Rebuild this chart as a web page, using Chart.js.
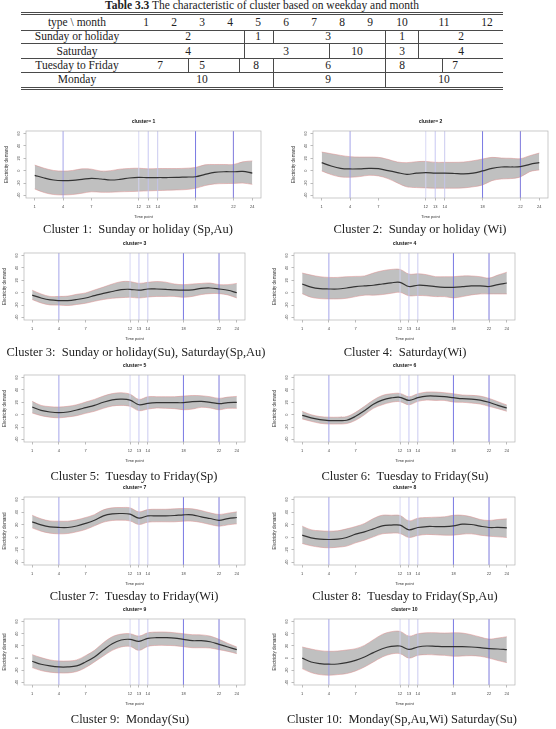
<!DOCTYPE html>
<html>
<head>
<meta charset="utf-8">
<script src="https://cdn.jsdelivr.net/npm/chart.js@4.4.1/dist/chart.umd.min.js"></script>
<style>
  body { margin: 0; width: 556px; height: 729px; background: #fff; position: relative; overflow: hidden;
         font-family: "Liberation Serif", serif; color: #222; }
  .t { position: absolute; white-space: pre; transform: translate(-50%, -50%); line-height: 1; }
  .rule { position: absolute; background: #4a4a4a; }
  canvas { position: absolute; }
</style>
</head>
<body>
<script>
// ---------------- data ----------------
const hours = [1, 2, 3, 4, 5, 6, 7, 8, 9, 10, 11, 12, 13, 14, 15, 16, 17, 18, 19, 20, 21, 22, 23, 24];
const xTicks = [1, 4, 7, 12, 13, 14, 18, 22, 24];
const yTicks = [-40, -20, 0, 20, 40, 60];
const vlineHours = [4, 12, 13, 14, 18, 22];

const clusterTitles = ['cluster= 1', 'cluster= 2', 'cluster= 3', 'cluster= 4', 'cluster= 5',
  'cluster= 6', 'cluster= 7', 'cluster= 8', 'cluster= 9', 'cluster= 10'];
const captions = [
  'Cluster 1:  Sunday or holiday (Sp,Au)', 'Cluster 2:  Sunday or holiday (Wi)',
  'Cluster 3:  Sunday or holiday(Su), Saturday(Sp,Au)', 'Cluster 4:  Saturday(Wi)',
  'Cluster 5:  Tuesday to Friday(Sp)', 'Cluster 6:  Tuesday to Friday(Su)',
  'Cluster 7:  Tuesday to Friday(Wi)', 'Cluster 8:  Tuesday to Friday(Sp,Au)',
  'Cluster 9:  Monday(Su)', 'Cluster 10:  Monday(Sp,Au,Wi) Saturday(Su)'
];

const meanC1 = [-7.5, -11.8, -15, -16, -15.5, -14, -12.3, -13.4, -15, -14, -11.8, -10.7, -11.3, -11, -11, -10.8, -10.2, -9.7, -6, -2.8, -1.7, -1.7, -1.2, -3.8];
const upperC1 = [9, 4, 0.4, -0.6, 0.4, 3, 2.5, -0.6, 0, 2.5, 3.6, 4, 3, 3.5, 3.5, 3.5, 4, 5.2, 9.5, 10, 10, 10, 14.3, 15.8];
const lowerC1 = [-29.4, -35.2, -38.4, -39, -38.4, -36.3, -34, -34.7, -34.7, -34, -33.6, -33, -32.5, -32, -31.5, -31, -30.4, -28.3, -24, -21.4, -20.8, -20.5, -20, -22];

const meanC2 = [13, 7.6, 3.8, 2.8, 3, 3.8, 3.3, 0, -3, -5.8, -4, -3, -4, -4, -4.5, -5.2, -4, -0.4, 3.8, 6, 6, 6.5, 10.3, 13];
const upperC2 = [30, 27.4, 24.7, 22.6, 22, 22, 21.5, 18.3, 14, 13, 14.5, 15, 13.5, 13.5, 13.5, 14, 16, 18.8, 21.5, 20.4, 20, 19.4, 24.2, 28.4];
const lowerC2 = [-0.4, -6.3, -10, -10.6, -9.5, -7.4, -8.4, -12.7, -19.7, -26, -27.2, -27.7, -28.2, -28.2, -28.2, -27.7, -26, -23, -16, -13.3, -12.7, -10, -1.5, 1.2];

const meanC3 = [-4, -8.5, -11.7, -12.7, -12.7, -11, -8.5, -4.7, -1, 2, 5, 5.5, 4, 6, 6, 5.5, 4.4, 4, 4.5, 7, 7.6, 6, 4, 0];
const upperC3 = [4, -2, -6, -6, -5.5, -2.6, -0.4, 4.4, 9, 14, 17.8, 18, 15, 16.7, 18, 17, 14, 13, 14, 15, 15.6, 13, 13, 15];
const lowerC3 = [-11, -16.5, -19.7, -20, -20.7, -19, -17, -13.8, -11, -9, -8, -7.4, -8.5, -7, -6, -6, -6, -7.4, -6, -3, -1.5, -1.5, -3.6, -8.5];

const meanC4 = [14, 9, 6.5, 6, 6, 7.6, 9.7, 11, 12, 14, 16, 16.7, 10, 12, 11.5, 9.7, 8.7, 8.7, 9.7, 11, 11, 10, 13, 15.6];
const upperC4 = [31.7, 28.4, 25.8, 24.7, 24.7, 25.8, 26.3, 27, 31.7, 35.4, 37.5, 37.5, 30, 30.6, 29, 25.8, 25.8, 25.8, 27, 27, 25.8, 23.6, 28.4, 33];
const lowerC4 = [-1.5, -7.4, -9.5, -10, -10, -9, -6.3, -4, -4, -3, -1, 0.6, -5, -4.5, -5, -6.3, -6.3, -8.4, -6.3, -3.6, -2, -2, -2, -2];

const meanC5 = [12.4, 7, 4.4, 3.3, 4.4, 7.6, 11.3, 15, 20, 24, 25, 23.6, 16, 18.3, 19.4, 19.4, 19.4, 19.4, 21, 21.5, 20, 17.8, 19.4, 20];
const upperC5 = [21.5, 15, 13, 12.4, 13.5, 16, 20.4, 24.7, 30, 34, 35.4, 33, 24.7, 29, 29, 29, 29, 30, 31, 30.5, 29, 26.3, 28.4, 29.5];
const lowerC5 = [2.8, -1.5, -4, -5, -3.6, -1.5, 2.2, 5.5, 10.3, 14, 15, 13.5, 6.5, 9, 10.8, 10.3, 9.7, 8, 9, 12, 10.8, 8, 10.3, 10.3];

const meanC6 = [-1, -5, -8, -9.5, -9.5, -9, -2.6, 6.5, 16.7, 23.6, 27, 28, 23, 27.4, 30, 30, 29, 27.4, 25.8, 25.2, 23.6, 20, 15, 10.8];
const upperC6 = [5.5, 0, -3, -4, -4, -3, 3.8, 13.5, 23.6, 31, 33.8, 34.3, 29, 33.8, 36.5, 36.5, 35.4, 33.8, 31.7, 31.2, 30, 26.3, 21, 15.6];
const lowerC6 = [-6.8, -10.6, -13.8, -15, -15, -14.3, -9, 0, 10.3, 16, 20, 21, 16, 21.5, 23.6, 23, 23, 20.4, 20, 18.8, 17.2, 13.5, 9.7, 5.5];

const meanC7 = [24.6, 19.8, 16.6, 15.6, 15.6, 18, 22, 27, 34, 37.2, 37.8, 36.7, 30.4, 34, 34, 34, 34.6, 35.7, 35.7, 32.5, 29.8, 27, 29.8, 31.4];
const upperC7 = [35, 29.3, 26, 25.6, 25.6, 27.7, 31.4, 36, 43.6, 46.8, 47.3, 46.8, 40.4, 44, 44.5, 44.5, 45.2, 45.7, 45.2, 42.5, 38.8, 36.2, 38.3, 40.4];
const lowerC7 = [15, 9.7, 6.6, 5.5, 6, 8.7, 12.4, 18.2, 24, 26.7, 27.2, 26, 20.3, 24, 24.6, 24.6, 24.6, 25.6, 25.6, 23.5, 20.3, 17.7, 19.8, 21.4];

const meanC8 = [3.4, -0.8, -3, -3.5, -3, -0.3, 5, 8.7, 13.4, 18.2, 19.3, 19.3, 11.9, 15.6, 17.1, 17.1, 17.1, 18.2, 20.8, 20.3, 17.7, 15.6, 15.6, 15];
const upperC8 = [17.7, 11.9, 10.3, 9.7, 10.3, 13.4, 17.1, 21.9, 29.8, 35, 35, 34.6, 26.1, 30.4, 31.4, 32, 32.5, 35, 35, 32.5, 28.3, 26.7, 28.3, 29.3];
const lowerC8 = [-9.8, -13.5, -15.7, -16.7, -15.7, -14, -8.8, -4.6, 0.7, 5.5, 6.6, 6, -0.3, 2.9, 4.5, 4, 3.4, 3.4, 5, 5.5, 3.4, 1.8, 0.7, -0.3];

const meanC9 = [-5.2, -10, -12.8, -14.5, -14.5, -12.8, -6.3, 1.8, 13.3, 23.6, 29.6, 30.7, 27.4, 32.3, 33.4, 33.4, 32.8, 30.7, 28.5, 28.5, 26.8, 22.5, 18.2, 13.8];
const upperC9 = [5.7, 0.8, -3, -4.7, -4.7, -3, 4, 12.7, 25.2, 35, 39.3, 39.9, 36, 41.5, 42.6, 42.6, 41.5, 39.9, 38.3, 38, 36, 30.7, 24.1, 18.2];
const lowerC9 = [-15.5, -20.4, -23, -24.2, -24.2, -22, -15.5, -6.3, 3.5, 12.7, 18.2, 19.2, 12.7, 19.2, 20.8, 20.8, 20.3, 18.7, 17, 17, 16.5, 13.8, 11, 7.3];

const meanC10 = [0, -6.3, -9, -10, -9.6, -7.4, -3.6, 1.8, 9, 15.4, 19.2, 19.8, 14.3, 18.2, 19.8, 19.2, 18.7, 18.7, 18.7, 18.2, 17, 15.4, 14.9, 13.8];
const upperC10 = [18.2, 14.9, 12.2, 11.1, 11.6, 13.3, 15.4, 20.8, 30, 38.8, 43.2, 43.7, 36, 39.9, 41.5, 41.5, 41, 41.5, 41, 38.3, 34.5, 31.2, 32.8, 35];
const lowerC10 = [-17.2, -23.7, -27, -28, -27, -25.3, -21, -14.5, -6.3, 1.8, 6.7, 7.3, 0, 4.6, 5.7, 5.2, 4.6, 3, 3.5, 4, 3, 0, -4, -7.4];

const means = [meanC1, meanC2, meanC3, meanC4, meanC5, meanC6, meanC7, meanC8, meanC9, meanC10];
const uppers = [upperC1, upperC2, upperC3, upperC4, upperC5, upperC6, upperC7, upperC8, upperC9, upperC10];
const lowers = [lowerC1, lowerC2, lowerC3, lowerC4, lowerC5, lowerC6, lowerC7, lowerC8, lowerC9, lowerC10];

// table contents
const tableMonths = ['1', '2', '3', '4', '5', '6', '7', '8', '9', '10', '11', '12'];
const tableTypes = ['Sunday or holiday', 'Saturday', 'Tuesday to Friday', 'Monday'];
const tableCells = [
  ['2', '1', '3', '1', '2'],
  ['4', '3', '10', '3', '4'],
  ['7', '5', '8', '6', '8', '7'],
  ['10', '9', '10']
];

// ---------------- layout ----------------
const SANS = '"Liberation Sans", Arial, sans-serif';
const monthX = [146, 174, 202, 230, 258, 286, 314, 342, 370, 402, 444, 487];
const cellX = [
  [188, 258, 328, 402, 461],
  [188, 286, 357, 402, 461],
  [160, 202, 256, 328, 402, 455],
  [202, 328, 444]
];
const sepX = [[244, 273, 385, 418], [244, 329, 385, 418], [188, 239, 273, 385, 442], [273, 385]];
const rowY = [37.3, 51.7, 65.7, 80];
const lineY = [30, 43, 57.5, 72, 87.3];

// plot boxes (frame) per row, per column
const boxTop = [131, 253, 375, 497, 619];
const boxBottom = [198, 320, 442, 565, 685];
const boxLeft = [[26, 313], [24, 294], [24, 294], [24, 294], [24, 294]];
const boxRight = [[261, 548], [245, 515], [245, 515], [245, 515], [245, 515]];
const titleGap = 9.8;
const captionY = [229, 352.3, 475.5, 596, 719];
const captionX = [[138, 420], [136, 405], [134, 405], [134, 405], [130, 402]];

const vlineColors = ['#9a9ae6', '#d4d4f4', '#c2c2f0', '#c4c4ee', '#6a6ae0', '#6e6ad8'];

function text(str, x, y, size, extra) {
  const d = document.createElement('div');
  d.className = 't';
  d.style.left = x + 'px';
  d.style.top = y + 'px';
  d.style.fontSize = size + 'px';
  if (extra) d.style.cssText += extra;
  d.textContent = str;
  document.body.appendChild(d);
  return d;
}
function rule(x, y, w, h) {
  const d = document.createElement('div');
  d.className = 'rule';
  d.style.left = x + 'px';
  d.style.top = y + 'px';
  d.style.width = w + 'px';
  d.style.height = h + 'px';
  document.body.appendChild(d);
}

// ---------------- table ----------------
const cap = text('', 262, 5.5, 11.5);
cap.innerHTML = '<b>Table 3.3</b> The characteristic of cluster based on weekday and month';
rule(21, 11.8, 482, 1);
rule(21, 14.4, 482, 0.6);
lineY.forEach((y, i) => rule(21, y, 482, i === 4 ? 1 : 0.6));
rule(21, 89.2, 482, 0.6);
text('type \\ month', 77, 23, 11.5);
tableMonths.forEach((m, i) => text(m, monthX[i], 23, 11.5));
tableTypes.forEach((t, r) => {
  text(t, 77, rowY[r], 11.5);
  tableCells[r].forEach((c, k) => text(c, cellX[r][k], rowY[r], 11.5));
  sepX[r].forEach(x => rule(x, lineY[r], 0.7, lineY[r + 1] - lineY[r]));
});

// ---------------- charts ----------------
const rFrame = {
  id: 'rFrame',
  afterDraw(chart) {
    const { ctx, chartArea: a, scales: { y } } = chart;
    ctx.save();
    ctx.strokeStyle = '#b4b4b4';
    ctx.lineWidth = 0.7;
    ctx.strokeRect(a.left, a.top, a.right - a.left, a.bottom - a.top);
    ctx.fillStyle = '#555';
    ctx.font = '4px ' + SANS;
    ctx.textAlign = 'center';
    ctx.textBaseline = 'middle';
    y.ticks.forEach(t => {
      ctx.save();
      ctx.translate(a.left - 7, y.getPixelForValue(t.value));
      ctx.rotate(-Math.PI / 2);
      ctx.fillText(String(t.value), 0, 0);
      ctx.restore();
    });
    ctx.restore();
  }
};

const Y_MIN = -44, Y_MAX = 64;
const pts = arr => hours.map((h, i) => ({ x: h, y: arr[i] }));

for (let i = 0; i < 10; i++) {
  const row = Math.floor(i / 2), col = i % 2;
  const bw = boxRight[row][col] - boxLeft[row][col];
  const bh = boxBottom[row] - boxTop[row];
  const cv = document.createElement('canvas');
  cv.width = bw + 26 + 8;
  cv.height = bh + 20 + 24;
  cv.style.left = (boxLeft[row][col] - 26) + 'px';
  cv.style.top = (boxTop[row] - 20) + 'px';
  document.body.appendChild(cv);

  const vlineSets = vlineHours.map((h, k) => ({
    data: [{ x: h, y: Y_MIN }, { x: h, y: Y_MAX }],
    borderColor: vlineColors[k], borderWidth: 0.9, tension: 0, order: 1
  }));

  new Chart(cv, {
    type: 'line',
    data: {
      datasets: [
        { data: pts(uppers[i]), borderColor: '#dc8c8c', borderWidth: 0.5,
          backgroundColor: '#c0c0c0', fill: '+1', order: 3 },
        { data: pts(lowers[i]), borderColor: '#dc8c8c', borderWidth: 0.5, fill: false, order: 2 },
        ...vlineSets,
        { data: pts(means[i]), borderColor: '#333', borderWidth: 1.2, fill: false, order: 0 }
      ]
    },
    options: {
      responsive: false,
      animation: false,
      events: [],
      layout: { padding: { left: 0, right: 8, top: 0, bottom: 0 } },
      elements: { point: { radius: 0 }, line: { tension: 0.35 } },
      plugins: {
        legend: { display: false },
        tooltip: { enabled: false },
        title: {
          display: true, fullSize: false, text: clusterTitles[i], color: '#111',
          font: { size: 5, weight: 'bold', family: SANS },
          padding: { top: 20 - titleGap - 3, bottom: titleGap - 3 }
        }
      },
      scales: {
        x: {
          type: 'linear', min: 0.08, max: 24.92,
          afterBuildTicks: s => { s.ticks = xTicks.map(v => ({ value: v })); },
          afterFit: s => { s.height = 24; },
          ticks: { autoSkip: false, maxRotation: 0, color: '#444', padding: 3.6,
                   font: { size: 4, family: SANS } },
          grid: { drawOnChartArea: false, drawTicks: true, tickLength: 2.5, color: '#777', lineWidth: 0.5 },
          border: { display: false },
          title: { display: true, text: 'Time point', color: '#333',
                   font: { size: 4, family: SANS }, padding: { top: 0, bottom: 3.1 } }
        },
        y: {
          min: Y_MIN, max: Y_MAX,
          afterBuildTicks: s => { s.ticks = yTicks.map(v => ({ value: v })); },
          afterFit: s => { s.width = 26; },
          ticks: { display: false },
          grid: { drawOnChartArea: false, drawTicks: true, tickLength: 2.5, color: '#777', lineWidth: 0.5 },
          border: { display: false },
          title: { display: true, text: 'Electricity demand', color: '#333',
                   font: { size: 4.5, family: SANS }, padding: { top: 4.4, bottom: 0 } }
        }
      }
    },
    plugins: [rFrame]
  });

  text(captions[i], captionX[row][col], captionY[row], 12.5);
}
</script>
</body>
</html>
